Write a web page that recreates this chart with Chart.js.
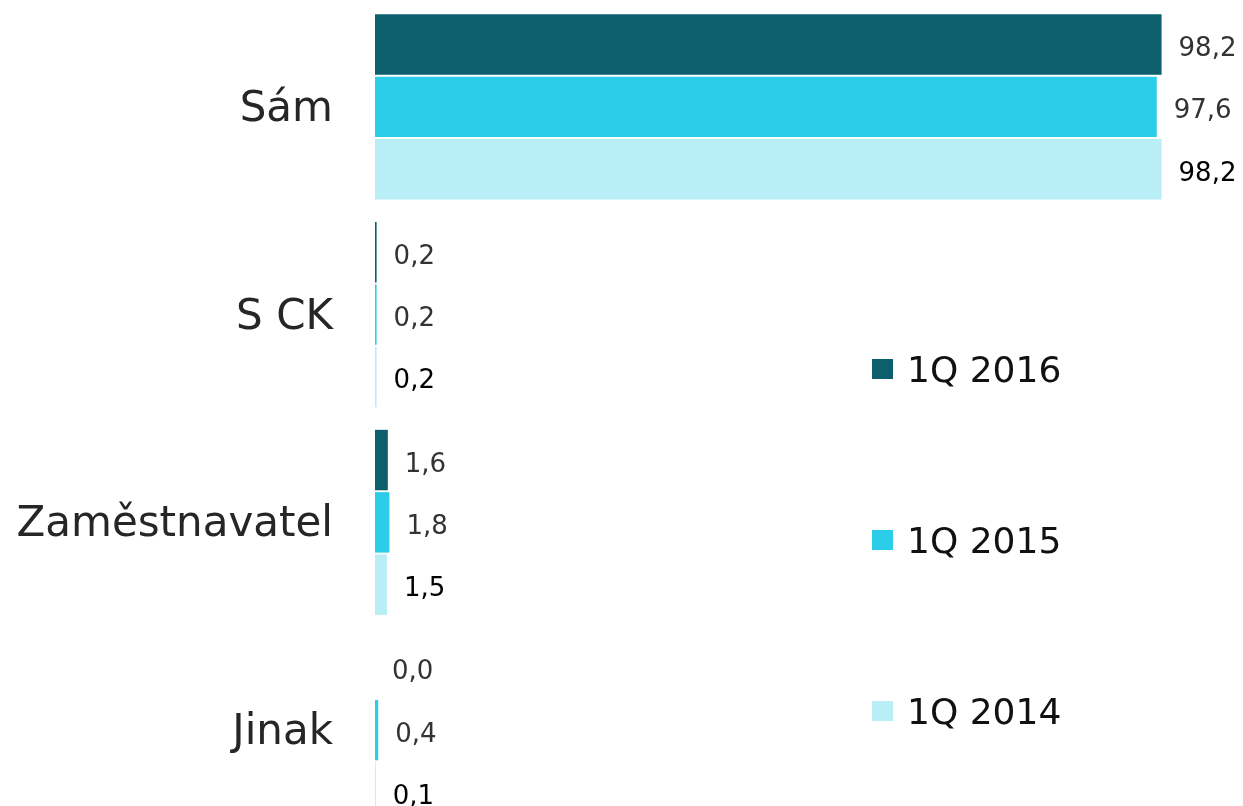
<!DOCTYPE html>
<html>
<head>
<meta charset="utf-8">
<script src="https://cdn.jsdelivr.net/npm/chart.js@4"></script>
<style>
  html, body { margin: 0; padding: 0; background: #fff; overflow: hidden; }
  #wrap { position: absolute; left: 0; top: 0; width: 1243px; height: 840px; }
</style>
</head>
<body>
<div id="wrap"><canvas id="c"></canvas></div>
<script>
const categories = ['Sám', 'S CK', 'Zaměstnavatel', 'Jinak'];
const seriesLabels = ['1Q 2016', '1Q 2015', '1Q 2014'];
const values2016 = [98.2, 0.2, 1.6, 0.0];
const values2015 = [97.6, 0.2, 1.8, 0.4];
const values2014 = [98.2, 0.2, 1.5, 0.1];
const seriesColors = ['#0d5f6d', '#2ccde8', '#b9eef7'];
const valueLabelColors = ['#333333', '#333333', '#000000'];

const FONT = "'DejaVu Sans', Verdana, sans-serif";

const valueLabels = {
  id: 'valueLabels',
  afterDatasetsDraw(chart) {
    const ctx = chart.ctx;
    ctx.save();
    ctx.font = '26px ' + FONT;
    ctx.textAlign = 'left';
    ctx.textBaseline = 'alphabetic';
    chart.data.datasets.forEach((ds, di) => {
      const meta = chart.getDatasetMeta(di);
      meta.data.forEach((el, i) => {
        const v = ds.data[i];
        ctx.fillStyle = valueLabelColors[di];
        ctx.fillText(v.toFixed(1).replace('.', ','), el.x + 17, el.y + 11.5);
      });
    });
    ctx.restore();
  }
};

const sideLegend = {
  id: 'sideLegend',
  afterDraw(chart) {
    const ctx = chart.ctx;
    const centers = [369, 540, 711];
    ctx.save();
    ctx.font = '36px ' + FONT;
    ctx.textAlign = 'left';
    ctx.textBaseline = 'alphabetic';
    chart.data.datasets.forEach((ds, di) => {
      const cy = centers[di];
      ctx.fillStyle = ds.backgroundColor;
      ctx.fillRect(872, cy - 10, 21, 20);
      ctx.fillStyle = '#111111';
      ctx.fillText(ds.label, 907, cy + 13);
    });
    ctx.restore();
  }
};

new Chart(document.getElementById('c'), {
  type: 'bar',
  data: {
    labels: categories,
    datasets: [
      { label: seriesLabels[0], data: values2016, backgroundColor: seriesColors[0] },
      { label: seriesLabels[1], data: values2015, backgroundColor: seriesColors[1] },
      { label: seriesLabels[2], data: values2014, backgroundColor: seriesColors[2] }
    ]
  },
  options: {
    indexAxis: 'y',
    responsive: true,
    maintainAspectRatio: false,
    animation: false,
    categoryPercentage: 0.9,
    barPercentage: 0.97,
    layout: { padding: { left: 0, right: 67, top: 3, bottom: 6 } },
    plugins: {
      legend: { display: false },
      tooltip: { enabled: false }
    },
    scales: {
      x: {
        display: false,
        min: 0,
        max: 100
      },
      y: {
        grid: { display: false, drawTicks: false },
        border: { display: false },
        ticks: {
          padding: 42,
          labelOffset: 3,
          color: '#262626',
          font: { family: FONT, size: 42 }
        },
        afterFit(scale) {
          scale.width = 375;
          scale.paddingTop = 0;
          scale.paddingBottom = 0;
        }
      }
    }
  },
  plugins: [valueLabels, sideLegend]
});
</script>
</body>
</html>
